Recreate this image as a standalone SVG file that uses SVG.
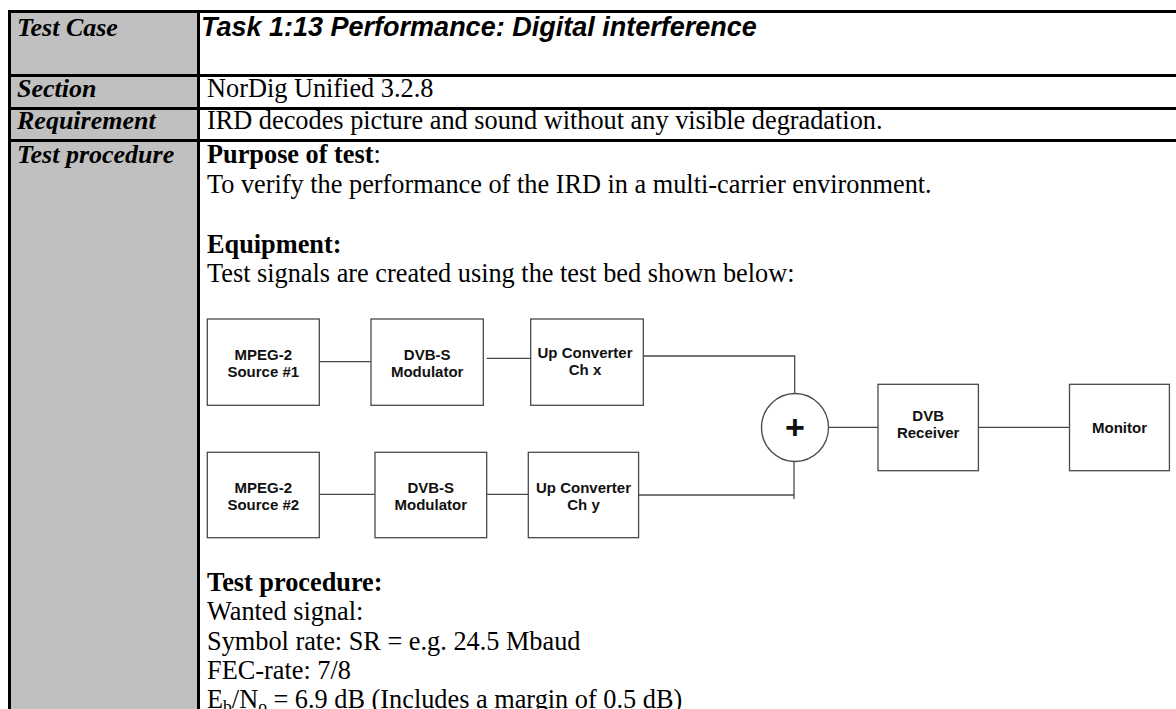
<svg xmlns="http://www.w3.org/2000/svg" width="1176" height="709" viewBox="0 0 1176 709">
  <style>
    .lbl { font-family: "Liberation Serif", "Times New Roman", serif; font-size: 26px; font-weight: bold; font-style: italic; fill: #000; }
    .body { font-family: "Liberation Serif", "Times New Roman", serif; font-size: 26.3px; fill: #000; }
    .b { font-weight: bold; }
    .title { font-family: "Liberation Sans", Arial, sans-serif; font-size: 27px; font-weight: bold; font-style: italic; fill: #000; }
    .rule { stroke: #000; stroke-width: 3; fill: none; }
    .box { fill: #fff; stroke: #4a4a4a; stroke-width: 1.3; }
    .wire { stroke: #4a4a4a; stroke-width: 1.3; fill: none; }
    .btxt { font-family: "Liberation Sans", Arial, sans-serif; font-size: 15px; font-weight: bold; fill: #111; text-anchor: middle; }
    .plus { font-family: "Liberation Sans", Arial, sans-serif; font-size: 34px; font-weight: bold; fill: #111; text-anchor: middle; }
  </style>

  <rect x="0" y="0" width="1176" height="709" fill="#fff"/>

  <!-- table frame -->
  <g id="table">
    <rect x="11" y="13" width="186" height="696" fill="#c0c0c0"/>
    <line class="rule" x1="8" y1="11.5" x2="1176" y2="11.5"/>
    <line class="rule" x1="8" y1="75.5" x2="1176" y2="75.5"/>
    <line class="rule" x1="8" y1="108.5" x2="1176" y2="108.5"/>
    <line class="rule" x1="8" y1="140.5" x2="1176" y2="140.5"/>
    <line class="rule" x1="9.5" y1="10" x2="9.5" y2="709"/>
    <line class="rule" x1="198.5" y1="10" x2="198.5" y2="709"/>
  </g>

  <!-- row headings -->
  <g id="headings">
    <text class="lbl" x="17" y="36">Test Case</text>
    <text class="lbl" x="17" y="97">Section</text>
    <text class="lbl" x="17" y="129">Requirement</text>
    <text class="lbl" x="17" y="163">Test procedure</text>
  </g>

  <!-- row contents -->
  <g id="contents">
    <text class="title" x="201" y="36">Task 1:13 Performance: Digital interference</text>
    <text class="body" x="207" y="97">NorDig Unified 3.2.8</text>
    <text class="body" x="207" y="129">IRD decodes picture and sound without any visible degradation.</text>
    <text class="body" x="207" y="163"><tspan class="b">Purpose of test</tspan>:</text>
    <text class="body" x="207" y="193">To verify the performance of the IRD in a multi-carrier environment.</text>
    <text class="body b" x="207" y="253">Equipment:</text>
    <text class="body" x="207" y="282">Test signals are created using the test bed shown below:</text>
    <text class="body b" x="207" y="591">Test procedure:</text>
    <text class="body" x="207" y="620">Wanted signal:</text>
    <text class="body" x="207" y="649.5">Symbol rate: SR = e.g. 24.5 Mbaud</text>
    <text class="body" x="207" y="679">FEC-rate: 7/8</text>
    <text class="body" x="207" y="708">E<tspan font-size="17.5" dy="4">b</tspan><tspan dy="-4">/N</tspan><tspan font-size="17.5" dy="4">o</tspan><tspan dy="-4"> = 6.9 dB (Includes a margin of 0.5 dB)</tspan></text>
  </g>

  <!-- connectors -->
  <g id="connectors">
    <line class="wire" x1="319.3" y1="361.7" x2="371" y2="361.7"/>
    <line class="wire" x1="486.7" y1="358.3" x2="530.7" y2="358.3"/>
    <polyline class="wire" points="643.3,356 794.7,356 794.7,393.5"/>
    <line class="wire" x1="319.3" y1="494.3" x2="375" y2="494.3"/>
    <line class="wire" x1="486.7" y1="494.3" x2="528.3" y2="494.3"/>
    <polyline class="wire" points="638.6,495 794,495"/>
    <line class="wire" x1="794" y1="461.5" x2="794" y2="499"/>
    <line class="wire" x1="828.5" y1="427.3" x2="878" y2="427.3"/>
    <line class="wire" x1="978.4" y1="427.3" x2="1069.5" y2="427.3"/>
  </g>

  <!-- equipment blocks -->
  <g id="src1">
    <rect class="box" x="207.3" y="319" width="112" height="86.3"/>
    <text class="btxt" x="263.3" y="359.5">MPEG-2</text>
    <text class="btxt" x="263.3" y="376.5">Source #1</text>
  </g>
  <g id="mod1">
    <rect class="box" x="371" y="319" width="112.3" height="86.3"/>
    <text class="btxt" x="427.2" y="359.5">DVB-S</text>
    <text class="btxt" x="427.2" y="376.5">Modulator</text>
  </g>
  <g id="upc1">
    <rect class="box" x="530.7" y="319" width="112.6" height="86.3"/>
    <text class="btxt" x="585" y="358">Up Converter</text>
    <text class="btxt" x="585" y="375">Ch x</text>
  </g>
  <g id="src2">
    <rect class="box" x="207.3" y="452.3" width="112" height="85.4"/>
    <text class="btxt" x="263.3" y="493">MPEG-2</text>
    <text class="btxt" x="263.3" y="510">Source #2</text>
  </g>
  <g id="mod2">
    <rect class="box" x="375" y="452.3" width="111.7" height="85.4"/>
    <text class="btxt" x="430.8" y="493">DVB-S</text>
    <text class="btxt" x="430.8" y="510">Modulator</text>
  </g>
  <g id="upc2">
    <rect class="box" x="528.3" y="452.3" width="110.3" height="85.4"/>
    <text class="btxt" x="583.5" y="493">Up Converter</text>
    <text class="btxt" x="583.5" y="510">Ch y</text>
  </g>
  <g id="combiner">
    <ellipse class="box" cx="795" cy="427.5" rx="33.5" ry="34"/>
    <text class="plus" x="795" y="439">+</text>
  </g>
  <g id="receiver">
    <rect class="box" x="878" y="384.3" width="100.4" height="86.4"/>
    <text class="btxt" x="928.2" y="421">DVB</text>
    <text class="btxt" x="928.2" y="438">Receiver</text>
  </g>
  <g id="monitor">
    <rect class="box" x="1069.5" y="384.3" width="99.9" height="86.4"/>
    <text class="btxt" x="1119.5" y="432.5">Monitor</text>
  </g>
</svg>
